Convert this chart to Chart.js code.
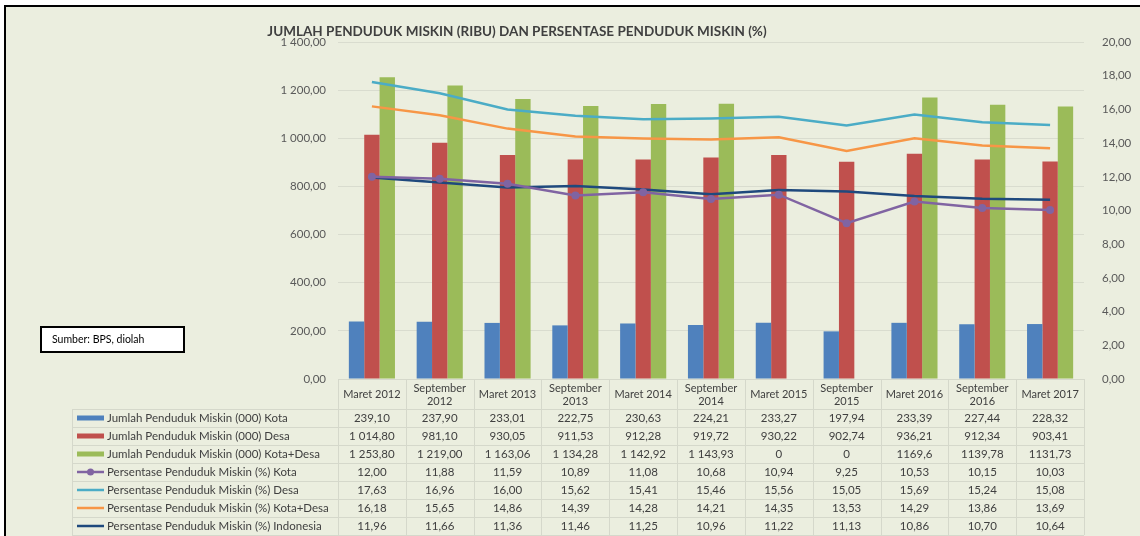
<!DOCTYPE html>
<html>
<head>
<meta charset="utf-8">
<script src="https://cdn.jsdelivr.net/npm/chart.js@4.4.1/dist/chart.umd.min.js"></script>
<style>
  html, body { margin: 0; padding: 0; background: #fff; }
  #wrap { position: relative; width: 1140px; height: 536px; }
</style>
</head>
<body>
<div id="wrap"><canvas id="povertyChart" width="1140" height="536"></canvas></div>
<script>
const periods = ['Maret 2012', ['September', '2012'], 'Maret 2013', ['September', '2013'], 'Maret 2014',
    ['September', '2014'], 'Maret 2015', ['September', '2015'], 'Maret 2016', ['September', '2016'], 'Maret 2017'];

const jumlahKota = [239.10, 237.90, 233.01, 222.75, 230.63, 224.21, 233.27, 197.94, 233.39, 227.44, 228.32];
const jumlahDesa = [1014.80, 981.10, 930.05, 911.53, 912.28, 919.72, 930.22, 902.74, 936.21, 912.34, 903.41];
const jumlahKotaDesa = [1253.80, 1219.00, 1163.06, 1134.28, 1142.92, 1143.93, 0, 0, 1169.6, 1139.78, 1131.73];
const jumlahKotaDesaText = ['1 253,80', '1 219,00', '1 163,06', '1 134,28', '1 142,92', '1 143,93', '0', '0', '1169,6', '1139,78', '1131,73'];

const persenKota = [12.00, 11.88, 11.59, 10.89, 11.08, 10.68, 10.94, 9.25, 10.53, 10.15, 10.03];
const persenDesa = [17.63, 16.96, 16.00, 15.62, 15.41, 15.46, 15.56, 15.05, 15.69, 15.24, 15.08];
const persenKotaDesa = [16.18, 15.65, 14.86, 14.39, 14.28, 14.21, 14.35, 13.53, 14.29, 13.86, 13.69];
const persenIndonesia = [11.96, 11.66, 11.36, 11.46, 11.25, 10.96, 11.22, 11.13, 10.86, 10.70, 10.64];

const leftTicks = [0, 1400, 200];
const rightTicks = [0, 20, 2];

const FONT = 'Lato, "Open Sans", sans-serif';

function fmt(v) {
    let parts = v.toFixed(2).split('.');
    let intPart = parts[0].replace(/\B(?=(\d{3})+(?!\d))/g, ' ');
    return intPart + ',' + parts[1];
}

// panel background, border, title and source box
const panelPlugin = {
    id: 'panel',
    beforeDraw(chart) {
        const ctx = chart.ctx;
        ctx.save();
        ctx.fillStyle = '#ffffff';
        ctx.fillRect(0, 0, chart.width, chart.height);
        ctx.fillStyle = '#ebeedf';
        ctx.fillRect(5, 6, chart.width, chart.height);
        ctx.strokeStyle = '#000';
        ctx.lineWidth = 2;
        ctx.beginPath();
        ctx.moveTo(5, chart.height);
        ctx.lineTo(5, 6);
        ctx.lineTo(chart.width, 6);
        ctx.stroke();

        ctx.fillStyle = '#404040';
        ctx.font = 'bold 13.5px ' + FONT;
        ctx.textAlign = 'center';
        ctx.textBaseline = 'middle';
        ctx.fillText('JUMLAH PENDUDUK MISKIN (RIBU) DAN PERSENTASE PENDUDUK MISKIN (%)', 517, 32);

        ctx.fillStyle = '#fff';
        ctx.fillRect(41, 327, 143, 25);
        ctx.strokeRect(41, 327, 143, 25);
        ctx.fillStyle = '#000';
        ctx.font = '10.5px ' + FONT;
        ctx.textAlign = 'left';
        ctx.fillText('Sumber: BPS, diolah', 52, 339.5);
        ctx.restore();
    }
};

// data table under the plot, aligned to the x scale
const tablePlugin = {
    id: 'dataTable',
    afterDraw(chart) {
        const ctx = chart.ctx;
        const x = chart.scales.x;
        const area = chart.chartArea;
        const n = periods.length;
        const colW = (area.right - area.left) / n;
        const top = area.bottom;
        const headH = 30, rowH = 18;
        const keyLeft = 72;
        const rows = chart.data.datasets;
        const bottom = top + headH + rowH * rows.length;

        ctx.save();
        ctx.strokeStyle = '#d5d8cb';
        ctx.lineWidth = 1;
        ctx.beginPath();
        ctx.moveTo(area.left, top + 0.5);
        ctx.lineTo(area.right, top + 0.5);
        for (let r = 0; r <= rows.length; r++) {
            const y = Math.round(top + headH + r * rowH) + 0.5;
            ctx.moveTo(keyLeft, y);
            ctx.lineTo(area.right, y);
        }
        ctx.moveTo(keyLeft + 0.5, top + headH);
        ctx.lineTo(keyLeft + 0.5, bottom);
        for (let i = 0; i <= n; i++) {
            const xx = Math.round(area.left + i * colW) + 0.5;
            ctx.moveTo(xx, top);
            ctx.lineTo(xx, bottom);
        }
        ctx.stroke();

        ctx.fillStyle = '#404040';
        ctx.font = '11px ' + FONT;
        ctx.textAlign = 'center';
        ctx.textBaseline = 'middle';
        periods.forEach((p, i) => {
            const cx = x.getPixelForValue(i);
            if (Array.isArray(p)) {
                ctx.fillText(p[0], cx, top + 9);
                ctx.fillText(p[1], cx, top + 22);
            } else {
                ctx.fillText(p, cx, top + 15.5);
            }
        });

        rows.forEach((ds, r) => {
            const cy = top + headH + r * rowH + rowH / 2;
            if (ds.type === 'line') {
                ctx.strokeStyle = ds.borderColor;
                ctx.lineWidth = 2.5;
                ctx.beginPath();
                ctx.moveTo(77, cy);
                ctx.lineTo(104, cy);
                ctx.stroke();
                if (ds.pointRadius > 0) {
                    ctx.fillStyle = ds.borderColor;
                    ctx.beginPath();
                    ctx.arc(90.5, cy, 3.5, 0, Math.PI * 2);
                    ctx.fill();
                }
            } else {
                ctx.fillStyle = ds.backgroundColor;
                ctx.fillRect(77, cy - 2.5, 27, 5);
            }
            ctx.fillStyle = '#404040';
            ctx.textAlign = 'left';
            ctx.font = '11.5px ' + FONT;
            ctx.fillText(ds.label, 107, cy);
            ctx.textAlign = 'center';
            const texts = ds.tableText || ds.data.map(fmt);
            texts.forEach((t, i) => {
                ctx.fillText(t, x.getPixelForValue(i), cy);
            });
        });
        ctx.restore();
    }
};

const ctx = document.getElementById('povertyChart').getContext('2d');
const povertyChart = new Chart(ctx, {
    data: {
        labels: periods,
        datasets: [
            { type: 'bar', label: 'Jumlah Penduduk Miskin (000) Kota', data: jumlahKota,
              backgroundColor: '#4f81bd', yAxisID: 'y', order: 10 },
            { type: 'bar', label: 'Jumlah Penduduk Miskin (000) Desa', data: jumlahDesa,
              backgroundColor: '#c0504d', yAxisID: 'y', order: 10 },
            { type: 'bar', label: 'Jumlah Penduduk Miskin (000) Kota+Desa', data: jumlahKotaDesa,
              tableText: jumlahKotaDesaText, backgroundColor: '#9bbb59', yAxisID: 'y', order: 10 },
            { type: 'line', label: 'Persentase Penduduk Miskin (%) Kota', data: persenKota,
              borderColor: '#8064a2', backgroundColor: '#8064a2', borderWidth: 2.5,
              pointRadius: 4, pointBorderWidth: 0, yAxisID: 'y1', order: 1 },
            { type: 'line', label: 'Persentase Penduduk Miskin (%) Desa', data: persenDesa,
              borderColor: '#4bacc6', borderWidth: 2.5, pointRadius: 0, yAxisID: 'y1', order: 4 },
            { type: 'line', label: 'Persentase Penduduk Miskin (%) Kota+Desa', data: persenKotaDesa,
              borderColor: '#f79646', borderWidth: 2.5, pointRadius: 0, yAxisID: 'y1', order: 3 },
            { type: 'line', label: 'Persentase Penduduk Miskin (%) Indonesia', data: persenIndonesia,
              borderColor: '#1f497d', borderWidth: 2.5, pointRadius: 0, yAxisID: 'y1', order: 2 }
        ]
    },
    options: {
        responsive: false,
        animation: false,
        layout: { padding: { top: 42, bottom: 157, left: 0, right: 0 } },
        datasets: {
            bar: { categoryPercentage: 0.68, barPercentage: 1.0 },
            line: { tension: 0 }
        },
        plugins: {
            legend: { display: false },
            title: { display: false },
            tooltip: { enabled: false }
        },
        scales: {
            x: { type: 'category', display: false, offset: true },
            y: {
                position: 'left',
                min: leftTicks[0], max: leftTicks[1],
                ticks: { stepSize: leftTicks[2], padding: 12, color: '#595959',
                         font: { family: FONT, size: 11.5 }, callback: v => fmt(v) },
                grid: { color: '#d9dccf', tickLength: 0 },
                border: { display: false },
                afterFit(s) { s.width = 338; }
            },
            y1: {
                position: 'right',
                min: rightTicks[0], max: rightTicks[1],
                ticks: { stepSize: rightTicks[2], padding: 18, color: '#595959',
                         font: { family: FONT, size: 11.5 }, callback: v => fmt(v) },
                grid: { display: false, tickLength: 0 },
                border: { display: false },
                afterFit(s) { s.width = 56; }
            }
        }
    },
    plugins: [panelPlugin, tablePlugin]
});
</script>
</body>
</html>
